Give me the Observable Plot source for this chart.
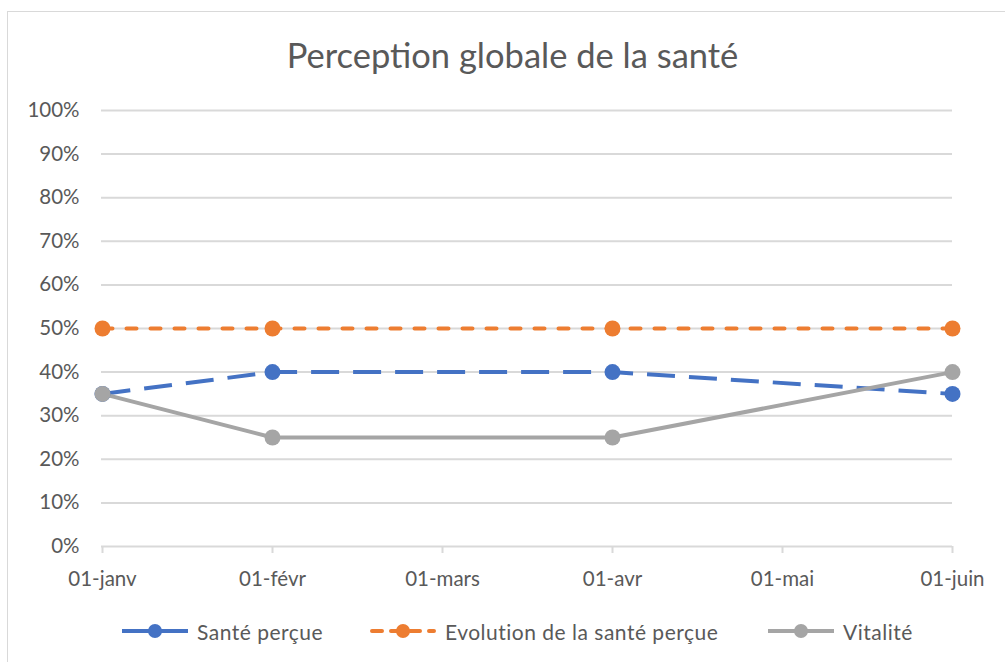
<!DOCTYPE html>
<html>
<head>
<meta charset="utf-8">
<script src="https://cdn.jsdelivr.net/npm/d3@7"></script>
<script src="https://cdn.jsdelivr.net/npm/@observablehq/plot@0.6"></script>
<style>
  html, body { margin: 0; padding: 0; background: #fff; }
  #wrap { position: relative; width: 1005px; height: 662px; overflow: hidden; font-family: Lato, "Open Sans", sans-serif; color: #595959; }
  #frame { position: absolute; left: 7px; top: 11px; width: 1100px; height: 800px; border: 1.5px solid #d9d9d9; box-sizing: border-box; }
  #title { position: absolute; left: 0; top: 0; width: 1025px; height: 90px; display: flex; align-items: center; justify-content: center; font-size: 34.5px; padding-top: 18px; box-sizing: border-box; }
  #chart { position: absolute; left: 0; top: 90px; }
  .leg { position: absolute; top: 618px; height: 26px; display: flex; align-items: center; font-size: 21px; letter-spacing: 0.5px; white-space: nowrap; }
  .leg svg { margin-right: 9px; }
</style>
</head>
<body>
<div id="wrap">
  <div id="frame"></div>
  <div id="title">Perception globale de la santé</div>
  <div id="chart"></div>
  <div id="legend"></div>
</div>
<script>
const months = ["01-janv", "01-févr", "01-mars", "01-avr", "01-mai", "01-juin"];
const pointMonths = ["01-janv", "01-févr", "01-avr", "01-juin"];
const santePercue = [0.35, 0.40, 0.40, 0.35];
const evolutionSante = [0.50, 0.50, 0.50, 0.50];
const vitalite = [0.35, 0.25, 0.25, 0.40];
const yTicks = [0, 0.1, 0.2, 0.3, 0.4, 0.5, 0.6, 0.7, 0.8, 0.9, 1.0];

const seriesNames = ["Santé perçue", "Evolution de la santé perçue", "Vitalité"];
const seriesValues = [santePercue, evolutionSante, vitalite];
const seriesColors = ["#4472C4", "#ED7D31", "#A5A5A5"];
const seriesDash = ["28,14", "10,14", null];
const seriesCap = ["butt", "round", "butt"];

const series = seriesNames.map((name, i) => ({
  name,
  color: seriesColors[i],
  dash: seriesDash[i],
  cap: seriesCap[i],
  data: pointMonths.map((m, j) => ({ month: m, value: seriesValues[i][j] }))
}));

const marks = [
  Plot.ruleY(yTicks.filter(d => d > 0), { stroke: "#d9d9d9", strokeWidth: 2 }),
  Plot.ruleY([0], { stroke: "#d9d9d9", strokeWidth: 2 }),
  Plot.axisX({ tickSize: 7, tickPadding: 18, stroke: "#d9d9d9", strokeWidth: 2, fontSize: 20.5, fill: "#595959" }),
  Plot.axisY({ ticks: yTicks, tickSize: 0, tickPadding: 22, tickFormat: d3.format(".0%"), fontSize: 20.5, fill: "#595959" })
];
for (const s of series) {
  marks.push(Plot.line(s.data, { x: "month", y: "value", stroke: s.color, strokeWidth: 4, strokeDasharray: s.dash, strokeLinecap: s.cap, strokeLinejoin: "round" }));
}
for (const s of series) {
  marks.push(Plot.dot(s.data, { x: "month", y: "value", r: 8, fill: s.color, stroke: null }));
}

const chart = Plot.plot({
  width: 1005,
  height: 510,
  marginLeft: 101,
  marginRight: 53,
  marginTop: 20,
  marginBottom: 54,
  style: { fontFamily: "Lato, 'Open Sans', sans-serif", color: "#595959", background: "transparent" },
  x: { type: "point", domain: months, padding: 0, label: null },
  y: { domain: [0, 1], label: null },
  marks
});
document.getElementById("chart").appendChild(chart);

// Legend
const legendX = [122, 370, 768];
const legend = document.getElementById("legend");
series.forEach((s, i) => {
  const item = document.createElement("div");
  item.className = "leg";
  item.style.left = legendX[i] + "px";
  const dash = i === 1 ? ' stroke-dasharray="10,9" stroke-linecap="round"' : '';
  const x1 = i === 1 ? 2 : 0, x2 = i === 1 ? 64 : 66;
  item.innerHTML = `<svg width="66" height="20"><line x1="${x1}" x2="${x2}" y1="10" y2="10" stroke="${s.color}" stroke-width="4"${dash}/><circle cx="33" cy="10" r="7" fill="${s.color}"/></svg><span>${s.name}</span>`;
  legend.appendChild(item);
});
</script>
</body>
</html>
